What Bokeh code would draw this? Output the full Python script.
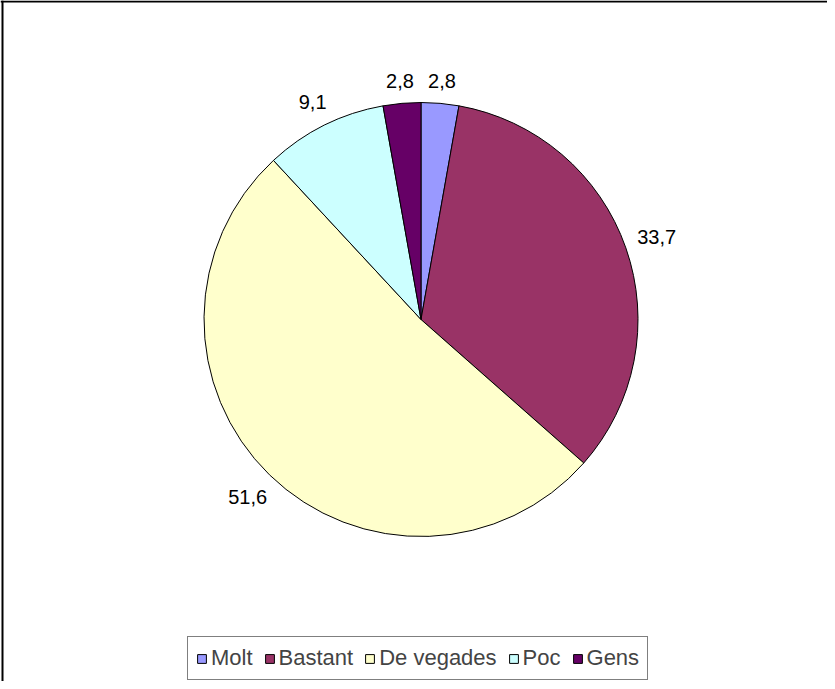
import math
from bokeh.plotting import figure
from bokeh.models import Range1d, Span, Legend, LegendItem, ColumnDataSource
from bokeh.core.properties import value
from bokeh.embed import file_html
from bokeh.resources import INLINE

categories = ["Molt", "Bastant", "De vegades", "Poc", "Gens"]
values = [2.8, 33.7, 51.6, 9.1, 2.8]
colors = ["#9999FF", "#993366", "#FFFFCC", "#CCFFFF", "#660066"]

FONT = "Liberation Sans"
W, H = 827, 681
CX, CY, R = 428.5, 362.0, 217.0

total = sum(values)
starts, ends, lx, ly, labels = [], [], [], [], []
cum = 0.0
for v in values:
    a0 = math.pi / 2 - 2 * math.pi * cum / total
    cum += v
    a1 = math.pi / 2 - 2 * math.pi * cum / total
    starts.append(a0)
    ends.append(a1)
    mid = (a0 + a1) / 2
    txt = f"{v:.1f}".replace(".", ",")
    hw = len(txt) * 4.5
    hh = 8.0
    rr = R + 13 + abs(math.cos(mid)) * hw + abs(math.sin(mid)) * hh
    lx.append(CX + rr * math.cos(mid))
    ly.append(CY + rr * math.sin(mid))
    labels.append(txt)

src = ColumnDataSource(dict(cat=categories, start=starts, end=ends, color=colors))
lsrc = ColumnDataSource(dict(x=lx, y=ly, t=labels))

p = figure(width=W, height=H, output_backend="svg", toolbar_location=None,
           x_range=Range1d(8, 8 + W), y_range=Range1d(0, H),
           x_axis_type=None, y_axis_type=None, min_border=0)
p.grid.visible = False
p.outline_line_color = None
p.background_fill_color = "white"
p.border_fill_color = "white"

wr = p.wedge(x=CX, y=CY, radius=R, start_angle="start", end_angle="end",
             direction="clock", fill_color="color", line_color="black",
             line_width=1, source=src)

p.text(x="x", y="y", text="t", source=lsrc, text_align="center",
       text_baseline="middle", text_font=value(FONT), text_font_size="20px",
       text_color="black")

p.add_layout(Span(location=10, dimension="height", line_color="black", line_width=2))
p.add_layout(Span(location=H - 1, dimension="width", line_color="black", line_width=2))

items = [LegendItem(label=c, renderers=[wr], index=i) for i, c in enumerate(categories)]
legend = Legend(items=items, orientation="horizontal", location=(187, 1),
                glyph_width=11, glyph_height=11, label_standoff=4, spacing=11,
                padding=8, margin=0, label_text_font=FONT, label_text_font_size="22px",
                label_height=22, border_line_color="black", border_line_width=1,
                background_fill_color="white", background_fill_alpha=1)
p.add_layout(legend)

open("out.html", "w").write(file_html(p, INLINE))
